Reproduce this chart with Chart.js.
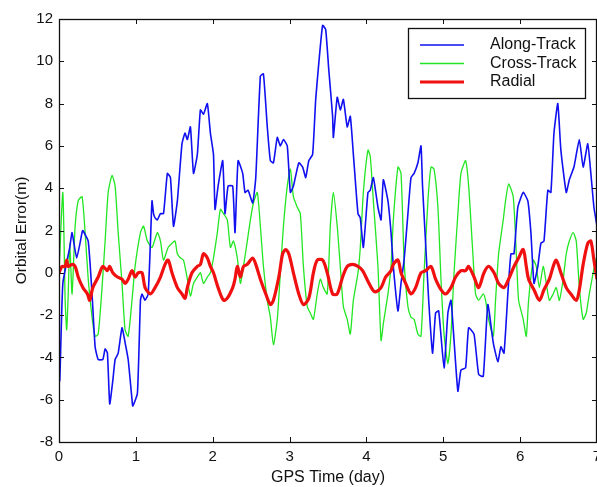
<!DOCTYPE html>
<html>
<head>
<meta charset="utf-8">
<script src="https://cdn.jsdelivr.net/npm/chart.js@4.4.1/dist/chart.umd.min.js"></script>
<style>
  html, body { margin: 0; padding: 0; background: #fff; }
  #wrap { width: 597px; height: 487px; }
</style>
</head>
<body>
<div id="wrap"><canvas id="orbit" width="597" height="487"></canvas></div>
<script>
// orbit error per component, [day, metres]
const alongTrack = [
  [0.00,-2.3],[0.01,-5.1],[0.05,-0.5],[0.14,1.2],[0.17,1.9],[0.23,0.7],[0.30,1.9],[0.31,2.0],[0.38,1.5],
  [0.43,-1.0],[0.47,-3.5],[0.51,-4.1],[0.57,-4.1],[0.60,-3.6],[0.63,-3.8],[0.66,-6.2],[0.70,-5.1],
  [0.73,-4.1],[0.77,-3.8],[0.82,-2.6],[0.86,-3.3],[0.90,-4.1],[0.95,-6.0],[0.96,-6.3],[1.02,-5.7],
  [1.06,-1.3],[1.08,-1.0],[1.12,-1.3],[1.16,-1.0],[1.19,1.5],[1.21,3.4],[1.23,2.8],[1.25,2.6],[1.28,2.5],
  [1.32,2.8],[1.36,2.8],[1.41,4.7],[1.45,4.5],[1.49,2.2],[1.54,3.4],[1.60,6.1],[1.64,6.6],[1.67,6.3],
  [1.71,6.9],[1.75,4.7],[1.80,5.6],[1.84,7.7],[1.88,7.5],[1.93,8.0],[1.97,6.6],[2.01,5.6],[2.03,3.0],
  [2.07,4.1],[2.13,5.3],[2.16,2.8],[2.20,4.1],[2.26,4.1],[2.29,1.9],[2.33,5.3],[2.39,4.7],[2.42,3.8],
  [2.46,3.9],[2.52,3.3],[2.56,4.5],[2.62,9.3],[2.66,9.4],[2.71,6.9],[2.75,5.3],[2.79,5.2],[2.84,6.4],
  [2.88,6.0],[2.92,6.3],[2.97,6.0],[3.01,3.8],[3.05,4.1],[3.12,5.2],[3.17,5.0],[3.21,4.5],[3.25,5.3],
  [3.30,5.6],[3.34,8.2],[3.38,9.9],[3.43,11.7],[3.47,11.5],[3.51,9.6],[3.56,7.4],[3.57,6.4],[3.62,8.3],
  [3.66,7.7],[3.70,8.2],[3.75,6.9],[3.79,7.4],[3.83,5.6],[3.89,2.8],[3.92,2.6],[3.96,1.2],[4.02,3.8],
  [4.05,3.9],[4.09,4.5],[4.15,3.1],[4.19,2.5],[4.22,4.4],[4.28,3.4],[4.32,1.9],[4.35,0.3],[4.41,-1.8],
  [4.45,-0.5],[4.49,0.6],[4.54,2.8],[4.58,4.5],[4.62,4.7],[4.67,5.2],[4.71,6.0],[4.73,4.1],[4.77,1.4],
  [4.81,-1.3],[4.86,-3.8],[4.90,-1.9],[4.94,-1.8],[5.01,-4.5],[5.06,-1.9],[5.10,-1.3],[5.14,-3.2],
  [5.19,-5.6],[5.23,-4.6],[5.29,-4.5],[5.33,-2.6],[5.40,-2.9],[5.46,-4.8],[5.52,-4.9],[5.58,-1.5],
  [5.65,-3.3],[5.71,-4.2],[5.75,-3.5],[5.79,-3.8],[5.84,-1.0],[5.88,0.9],[5.92,0.9],[5.97,3.1],
  [6.04,3.8],[6.10,3.4],[6.14,1.9],[6.18,-0.5],[6.23,0.3],[6.27,1.4],[6.31,1.5],[6.36,3.9],[6.40,3.8],
  [6.44,6.6],[6.49,8.0],[6.53,5.8],[6.60,3.8],[6.64,4.4],[6.70,5.0],[6.77,6.3],[6.82,5.0],[6.88,6.1],
  [6.92,4.7],[6.96,3.1],[7.00,2.2]
];

const crossTrack = [
  [0.00,0.0],[0.05,3.8],[0.08,-1.3],[0.10,-2.7],[0.12,-1.0],[0.14,1.4],[0.17,-1.0],[0.21,2.2],[0.25,3.4],
  [0.30,3.6],[0.34,1.9],[0.38,-0.3],[0.43,-2.1],[0.47,-3.0],[0.51,-2.9],[0.56,-0.7],[0.60,1.5],[0.64,3.8],
  [0.69,4.6],[0.73,4.1],[0.77,1.9],[0.82,-0.5],[0.86,-2.7],[0.90,-3.0],[0.95,-1.3],[0.99,0.3],[1.06,1.9],
  [1.10,2.2],[1.15,1.5],[1.21,1.2],[1.28,1.9],[1.32,1.5],[1.36,0.6],[1.42,1.2],[1.47,1.4],[1.51,1.5],
  [1.54,0.9],[1.58,0.7],[1.62,0.6],[1.67,-0.3],[1.71,-1.1],[1.75,-0.5],[1.80,-0.2],[1.84,0.0],[1.88,-0.5],
  [1.93,-0.2],[1.97,0.0],[2.01,0.7],[2.06,1.9],[2.10,3.0],[2.14,2.8],[2.19,2.5],[2.23,1.2],[2.27,1.5],
  [2.32,0.7],[2.36,-0.5],[2.40,0.3],[2.45,1.5],[2.49,2.5],[2.53,3.3],[2.58,3.8],[2.62,2.2],[2.66,0.3],
  [2.71,-1.3],[2.75,-2.1],[2.79,-3.4],[2.84,-2.2],[2.88,0.0],[2.92,2.2],[2.97,4.1],[3.01,4.9],[3.05,3.6],
  [3.10,3.1],[3.14,2.8],[3.18,0.3],[3.23,-1.6],[3.27,-1.9],[3.31,-2.2],[3.36,-1.0],[3.40,-0.3],[3.44,-0.7],
  [3.49,-1.0],[3.53,2.2],[3.57,3.8],[3.62,2.2],[3.66,0.3],[3.70,-1.6],[3.75,-2.2],[3.79,-2.9],[3.83,-1.3],
  [3.89,0.0],[3.92,1.2],[3.96,3.8],[4.02,5.8],[4.05,5.5],[4.09,3.4],[4.15,0.3],[4.19,-3.2],[4.22,-2.4],
  [4.28,-1.0],[4.32,0.3],[4.35,2.5],[4.41,5.0],[4.45,4.7],[4.49,0.6],[4.54,-1.6],[4.58,-2.1],[4.62,-2.2],
  [4.67,-2.9],[4.71,-3.0],[4.75,0.0],[4.80,3.4],[4.84,5.0],[4.88,4.9],[4.93,3.1],[4.97,-0.3],[5.01,-2.9],
  [5.06,-4.3],[5.10,-2.9],[5.14,0.0],[5.19,2.8],[5.23,4.7],[5.29,5.3],[5.33,4.1],[5.38,1.2],[5.42,-1.0],
  [5.46,-1.3],[5.52,-1.0],[5.55,-1.3],[5.59,-2.2],[5.65,-3.0],[5.68,-1.3],[5.72,0.9],[5.78,2.5],[5.81,3.4],
  [5.85,4.2],[5.91,3.6],[5.95,0.9],[5.98,-1.3],[6.04,-2.2],[6.08,-3.0],[6.11,-1.3],[6.17,0.6],[6.21,0.3],
  [6.25,-0.7],[6.30,0.3],[6.34,-0.5],[6.38,-1.3],[6.43,-1.0],[6.47,-0.7],[6.51,-1.3],[6.56,-0.3],[6.60,0.9],
  [6.64,1.5],[6.69,1.9],[6.73,1.5],[6.77,-0.7],[6.82,-2.2],[6.86,-1.9],[6.90,-1.0],[6.95,0.0],[6.99,0.7]
];

const radial = [
  [0.00,0.0],[0.04,0.3],[0.08,0.3],[0.10,0.6],[0.12,0.3],[0.17,0.4],[0.21,0.3],[0.25,-0.2],[0.31,-0.7],
  [0.37,-1.0],[0.40,-1.3],[0.44,-0.7],[0.51,-0.2],[0.57,0.3],[0.63,0.1],[0.66,0.3],[0.70,0.0],[0.76,-0.2],
  [0.82,-0.3],[0.86,-0.5],[0.90,-0.3],[0.95,0.1],[0.99,-0.2],[1.03,0.0],[1.08,0.0],[1.12,-0.7],[1.19,-1.0],
  [1.25,-0.7],[1.32,-0.2],[1.38,0.4],[1.42,0.6],[1.47,0.0],[1.54,-0.7],[1.60,-1.0],[1.64,-1.2],[1.67,-0.7],
  [1.73,0.0],[1.80,0.3],[1.84,0.4],[1.88,0.9],[1.93,0.7],[1.97,0.3],[2.01,0.0],[2.07,-0.7],[2.14,-1.3],
  [2.19,-1.2],[2.26,-0.7],[2.29,-0.3],[2.32,0.3],[2.36,-0.2],[2.40,0.3],[2.45,0.4],[2.52,0.7],[2.56,0.4],
  [2.62,-0.3],[2.69,-1.0],[2.75,-1.5],[2.79,-1.3],[2.86,-0.2],[2.91,0.9],[2.95,1.1],[2.99,0.9],[3.05,0.0],
  [3.12,-1.0],[3.18,-1.5],[3.25,-1.2],[3.31,0.0],[3.36,0.6],[3.43,0.6],[3.49,0.0],[3.56,-1.0],[3.62,-1.0],
  [3.69,-0.2],[3.75,0.3],[3.82,0.4],[3.89,0.3],[3.95,0.1],[4.02,-0.4],[4.08,-0.8],[4.12,-0.9],[4.19,-0.7],
  [4.25,-0.2],[4.32,0.1],[4.35,0.4],[4.41,0.6],[4.45,0.0],[4.51,-0.5],[4.58,-1.0],[4.64,-0.7],[4.71,0.0],
  [4.77,0.1],[4.84,0.3],[4.90,-0.3],[4.97,-0.8],[5.03,-1.0],[5.10,-0.7],[5.16,-0.2],[5.23,0.1],[5.29,0.1],
  [5.33,0.3],[5.40,-0.2],[5.46,-0.7],[5.53,0.0],[5.59,0.3],[5.66,0.0],[5.72,-0.5],[5.79,-0.7],[5.85,-0.3],
  [5.92,0.3],[5.98,0.7],[6.04,1.1],[6.08,0.3],[6.11,-0.3],[6.18,-0.8],[6.25,-1.3],[6.31,-0.8],[6.38,-0.3],
  [6.43,0.3],[6.47,0.6],[6.53,0.0],[6.60,-0.7],[6.66,-1.0],[6.73,-1.3],[6.77,-0.8],[6.82,0.4],[6.88,1.4],
  [6.92,1.5],[6.96,0.6],[7.00,-0.3]
];

const seriesNames = ['Along-Track', 'Cross-Track', 'Radial'];
const xTitle = 'GPS Time (day)';
const yTitle = 'Orbital Error(m)';

const FONT = "'Liberation Sans', Arial, Helvetica, sans-serif";
const toPts = arr => arr.map(p => ({ x: p[0], y: p[1] }));

// matlab-style box: frame plus inward ticks on all four sides
const boxAxes = {
  id: 'boxAxes',
  afterDatasetsDraw(chart) {
    const { ctx, chartArea: a, scales: { x, y } } = chart;
    const len = 5;
    ctx.save();
    ctx.strokeStyle = '#111';
    ctx.lineWidth = 1;
    ctx.beginPath();
    x.ticks.forEach(t => {
      const px = Math.round(x.getPixelForValue(t.value)) + 0.5;
      ctx.moveTo(px, a.bottom); ctx.lineTo(px, a.bottom - len);
      ctx.moveTo(px, a.top); ctx.lineTo(px, a.top + len);
    });
    y.ticks.forEach(t => {
      const py = Math.round(y.getPixelForValue(t.value)) + 0.5;
      ctx.moveTo(a.left, py); ctx.lineTo(a.left + len, py);
      ctx.moveTo(a.right, py); ctx.lineTo(a.right - len, py);
    });
    ctx.stroke();
    ctx.lineWidth = 1.3;
    ctx.strokeRect(a.left + 0.5, a.top + 0.5, a.right - a.left - 1, a.bottom - a.top);
    ctx.restore();
  }
};

// boxed legend in the top right corner
const boxLegend = {
  id: 'boxLegend',
  afterDraw(chart) {
    const { ctx } = chart;
    const bx = 408, by = 28, bw = 177, bh = 70;
    ctx.save();
    ctx.fillStyle = '#fff';
    ctx.fillRect(bx, by, bw, bh);
    ctx.strokeStyle = '#111';
    ctx.lineWidth = 1.3;
    ctx.strokeRect(bx + 0.5, by + 0.5, bw, bh);
    ctx.font = '16px ' + FONT;
    ctx.textBaseline = 'middle';
    ctx.fillStyle = '#111';
    chart.data.datasets.forEach((ds, i) => {
      const ry = by + 17 + i * 18.5;
      ctx.strokeStyle = ds.borderColor;
      ctx.lineWidth = ds.borderWidth;
      ctx.beginPath();
      ctx.moveTo(bx + 12, ry); ctx.lineTo(bx + 56, ry);
      ctx.stroke();
      ctx.fillText(ds.label, bx + 82, ry);
    });
    ctx.restore();
  }
};

new Chart(document.getElementById('orbit'), {
  type: 'line',
  data: {
    datasets: [
      { label: seriesNames[0], data: toPts(alongTrack), borderColor: '#1010f0', borderWidth: 1.6, order: 1, tension: 0.15 },
      { label: seriesNames[1], data: toPts(crossTrack), borderColor: '#22e622', borderWidth: 1.3, order: 2, tension: 0.2 },
      { label: seriesNames[2], data: toPts(radial), borderColor: '#f01010', borderWidth: 3.2, order: 0, tension: 0.3 }
    ]
  },
  options: {
    responsive: false,
    animation: false,
    devicePixelRatio: 1,
    layout: { padding: { top: 19, right: 0, left: 0, bottom: 0 } },
    elements: { point: { radius: 0 } },
    plugins: { legend: { display: false }, tooltip: { enabled: false } },
    scales: {
      x: {
        type: 'linear', min: 0, max: 7,
        grid: { display: false, drawTicks: false },
        border: { display: false },
        ticks: { stepSize: 1, padding: 6, color: '#111', font: { family: FONT, size: 15 } },
        title: { display: true, text: xTitle, color: '#111', padding: { top: 0, bottom: 0 }, font: { family: FONT, size: 16 } },
        afterFit(s) { s.height = 45; s.paddingLeft = 0; s.paddingRight = 0; }
      },
      y: {
        min: -8, max: 12,
        grid: { display: false, drawTicks: false },
        border: { display: false },
        ticks: { stepSize: 2, padding: 6, color: '#111', font: { family: FONT, size: 15 } },
        title: { display: true, text: yTitle, color: '#111', padding: { top: 12, bottom: 0 }, font: { family: FONT, size: 15.5 } },
        afterFit(s) { s.width = 59; s.paddingTop = 0; s.paddingBottom = 0; }
      }
    }
  },
  plugins: [boxAxes, boxLegend]
});
</script>
</body>
</html>
